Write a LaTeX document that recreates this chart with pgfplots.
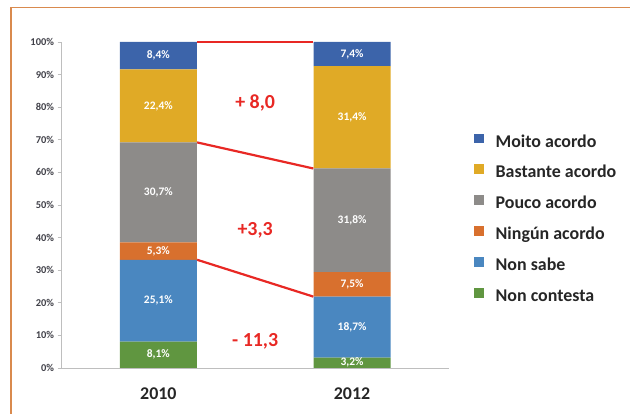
\documentclass[border=0pt]{standalone}
\usepackage{pgfplots}
\pgfplotsset{compat=1.18}
\usepackage{pgfplotstable}
\usepackage{fontspec}
\setmainfont{Carlito}
\definecolor{cMoito}{RGB}{60,100,170}
\definecolor{cBast}{RGB}{224,170,38}
\definecolor{cPouco}{RGB}{141,139,137}
\definecolor{cNingun}{RGB}{216,112,46}
\definecolor{cNonsabe}{RGB}{74,135,192}
\definecolor{cNoncont}{RGB}{96,150,64}
\definecolor{cRed}{RGB}{232,40,36}
\definecolor{cFrame}{RGB}{217,138,78}
\definecolor{cAxis}{RGB}{190,190,190}
\definecolor{cTick}{RGB}{64,64,72}

\pgfplotstableread{
x nc ns na pa ba ma
0 8.1 25.1 5.3 30.7 22.4 8.4
1 3.2 18.7 7.5 31.8 31.4 7.4
}\shares

\pgfplotstableread{
x y v
0 4.05 8.1
0 20.65 25.1
0 35.85 5.3
0 53.85 30.7
0 80.4 22.4
0 95.8 8.4
1 1.6 3.2
1 12.55 18.7
1 25.65 7.5
1 45.3 31.8
1 76.9 31.4
1 96.3 7.4
}\labels

\begin{document}
\begin{tikzpicture}
\begin{axis}[
  at={(61.5bp,46bp)}, anchor=south west,
  scale only axis, width=387.4bp, height=326bp,
  ybar stacked, bar width=77bp,
  xmin=-0.5, xmax=1.5, ymin=0, ymax=100,
  axis x line*=bottom, axis y line*=left,
  axis line style={cAxis, line width=0.8bp},
  xtick={0,1}, xticklabels={2010,2012},
  xticklabel style={font=\bfseries\fontsize{18}{18}\selectfont, text=black!85, yshift=-12bp},
  x tick style={draw=none},
  extra x ticks={0.5}, extra x tick labels={},
  extra x tick style={tick style={draw=cAxis, line width=0.8bp}},
  ytick={0,10,...,100},
  yticklabel={\pgfmathprintnumber{\tick}\%},
  yticklabel style={font=\bfseries\fontsize{10.5}{11}\selectfont, text=cTick},
  /pgf/number format/assume math mode=true,
  tick align=outside, major tick length=4bp,
  y tick style={draw=cAxis, line width=0.8bp},
  reverse legend,
  legend style={at={(axis description cs:1.057,0.726)}, anchor=north west,
    draw=none, fill=none, font=\bfseries\fontsize{18}{20}\selectfont, text=black!85,
    nodes={inner sep=0pt, text height=12bp, text depth=4bp},
    row sep=13.4bp, legend cell align=left,
    /tikz/every odd column/.append style={column sep=12bp}},
  legend image code/.code={\fill[#1] (0bp,0bp) rectangle (9.5bp,9.5bp);},
]
\addplot[fill=cNoncont, draw=none] table[x=x, y=nc] {\shares};
\addplot[fill=cNonsabe, draw=none] table[x=x, y=ns] {\shares};
\addplot[fill=cNingun, draw=none] table[x=x, y=na] {\shares};
\addplot[fill=cPouco, draw=none] table[x=x, y=pa] {\shares};
\addplot[fill=cBast, draw=none] table[x=x, y=ba] {\shares};
\addplot[fill=cMoito, draw=none] table[x=x, y=ma] {\shares};
\legend{Non contesta, Non sabe, Ningún acordo, Pouco acordo, Bastante acordo, Moito acordo}
\end{axis}
\begin{axis}[
  at={(61.5bp,46bp)}, anchor=south west,
  scale only axis, width=387.4bp, height=326bp,
  xmin=-0.5, xmax=1.5, ymin=0, ymax=100,
  hide axis, clip=false,
  /pgf/number format/.cd, assume math mode=true, use comma, fixed, fixed zerofill, precision=1,
]
\addplot[cRed, line width=2.2bp] coordinates {(0.2,100) (0.8,100)};
\addplot[cRed, line width=2.2bp] coordinates {(0.2,69.2) (0.8,61.2)};
\addplot[cRed, line width=2.2bp] coordinates {(0.2,33.2) (0.8,21.9)};
\addplot[draw=none, mark=none, point meta=explicit,
  nodes near coords={\pgfmathprintnumber{\pgfplotspointmeta}\%},
  every node near coord/.style={anchor=center, text=white, font=\bfseries\fontsize{11.5}{12}\selectfont}]
  table[x=x, y=y, meta=v] {\labels};
\node[text=cRed, font=\bfseries\fontsize{20}{20}\selectfont] at (axis cs:0.5,81.2) {+ 8,0};
\node[text=cRed, font=\bfseries\fontsize{20}{20}\selectfont] at (axis cs:0.5,42.3) {+3,3};
\node[text=cRed, font=\bfseries\fontsize{20}{20}\selectfont] at (axis cs:0.5,8.1) {- 11,3};
\end{axis}
\draw[cFrame, line width=1.5bp] (630bp,406.5bp) -- (11bp,406.5bp) -- (11bp,0bp);
\pgfresetboundingbox
\useasboundingbox (0bp,0bp) rectangle (630bp,414bp);
\end{tikzpicture}
\end{document}
